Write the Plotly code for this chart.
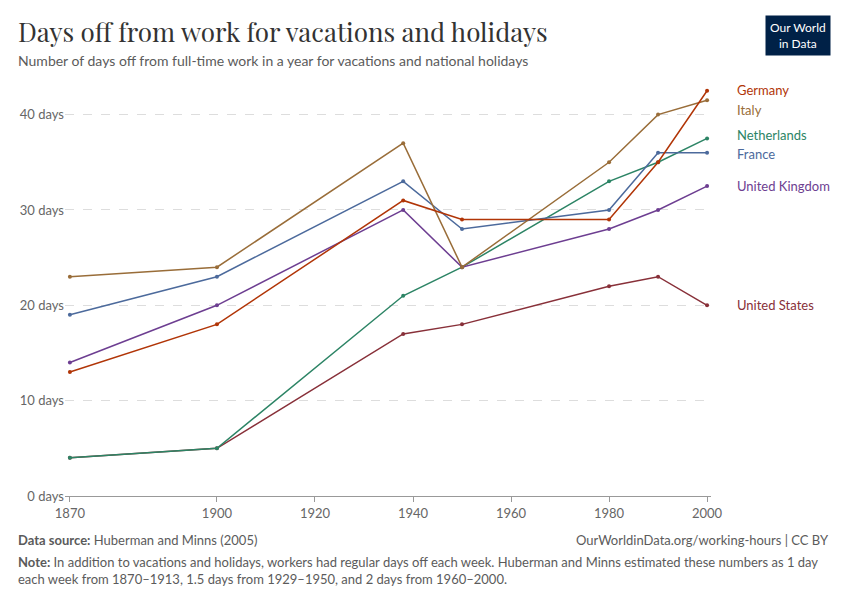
import plotly.graph_objects as go

years = [1870, 1900, 1938, 1950, 1980, 1990, 2000]
germany = [13, 18, 31, 29, 29, 35, 42.5]
italy = [23, 24, 37, 24, 35, 40, 41.5]
netherlands = [4, 5, 21, 24, 33, 35, 37.5]
france = [19, 23, 33, 28, 30, 36, 36]
uk = [14, 20, 30, 24, 28, 30, 32.5]
us = [4, 5, 17, 18, 22, 23, 20]

series = [
    ("United States", us, "#883039", 20),
    ("Netherlands", netherlands, "#2c8465", 37.9),
    ("United Kingdom", uk, "#6d3e91", 32.5),
    ("France", france, "#4c6a9c", 35.9),
    ("Italy", italy, "#996d39", 40.5),
    ("Germany", germany, "#b13507", 42.6),
]

fig = go.Figure()
for name, vals, col, ly in series:
    fig.add_trace(go.Scatter(x=years, y=vals, mode="lines+markers", name=name,
                             line=dict(color=col, width=1.5), marker=dict(size=4, color=col),
                             hovertemplate="%{x}: %{y} days<extra>" + name + "</extra>"))
    fig.add_annotation(x=2000, y=ly, xref="x", yref="y", text=name, showarrow=False,
                       xanchor="left", xshift=28, font=dict(color=col, size=13))

# body has an 8px margin, so the figure is 16px smaller than the window
fig.update_layout(
    width=834, height=584, template="plotly_white", showlegend=False,
    font=dict(family="Lato, sans-serif", color="#555"),
    margin=dict(l=57, r=131, t=78, b=96),
    plot_bgcolor="white",
)
fig.add_annotation(text="Days off from work for vacations and holidays", xref="paper", yref="paper",
                   x=-0.076, y=1.133, xanchor="left", yanchor="middle", showarrow=False,
                   font=dict(family="Playfair Display, Liberation Serif, serif", size=26, color="#333"))
fig.add_annotation(text="Number of days off from full-time work in a year for vacations and national holidays",
                   xref="paper", yref="paper", x=-0.076, y=1.062, xanchor="left", yanchor="middle",
                   showarrow=False, font=dict(size=14, color="#5b5b5b"))
fig.add_annotation(text="<b>Data source:</b> Huberman and Minns (2005)", xref="paper", yref="paper",
                   x=-0.076, y=-0.107, xanchor="left", yanchor="middle", showarrow=False,
                   font=dict(size=13, color="#5b5b5b"))
fig.add_annotation(text="OurWorldinData.org/working-hours | CC BY", xref="paper", yref="paper",
                   x=1.186, y=-0.107, xanchor="right", yanchor="middle", showarrow=False,
                   font=dict(size=13, color="#5b5b5b"))
fig.add_annotation(text="<b>Note:</b> In addition to vacations and holidays, workers had regular days off each week. Huberman and Minns estimated these numbers as 1 day<br>each week from 1870–1913, 1.5 days from 1929–1950, and 2 days from 1960–2000.",
                   xref="paper", yref="paper", x=-0.076, y=-0.137, xanchor="left", yanchor="top", align="left",
                   showarrow=False, font=dict(size=13, color="#5b5b5b"))
fig.add_annotation(text="Our World<br>in Data", xref="paper", yref="paper", x=1.186, y=1.174,
                   xanchor="right", yanchor="top", showarrow=False, bgcolor="#002147",
                   borderpad=4, font=dict(color="white", size=12))

fig.update_xaxes(range=[1869, 2000.8], tickvals=[1870, 1900, 1920, 1940, 1960, 1980, 2000],
                 showgrid=False, showline=True, linecolor="#999", ticks="outside", tickcolor="#999",
                 tickfont=dict(size=13, color="#666"))
fig.update_yaxes(range=[0, 43], tickvals=[0, 10, 20, 30, 40],
                 ticktext=["0 days", "10 days", "20 days", "30 days", "40 days"],
                 gridcolor="#ddd", griddash="dash", zeroline=False,
                 tickfont=dict(size=13, color="#666"))

fig.write_html("out.html")
